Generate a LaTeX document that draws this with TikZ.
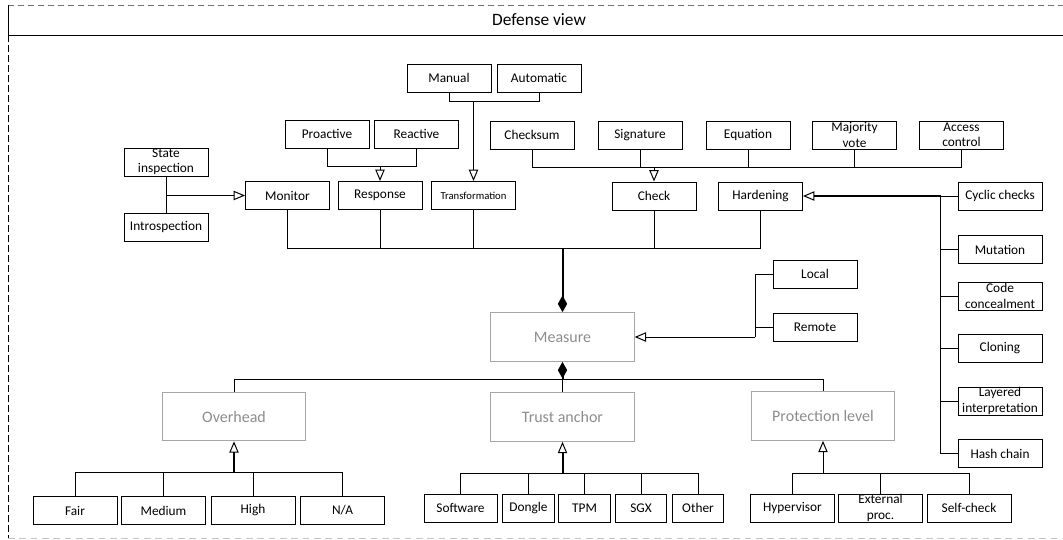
\documentclass[tikz,border=0pt]{standalone}
\usepackage{fontspec}
\setmainfont{Carlito}
\usetikzlibrary{arrows.meta}
\definecolor{boxgray}{HTML}{A6A6A6}
\definecolor{txtgray}{HTML}{8C8C8C}
\definecolor{dashgray}{HTML}{C4C4C4}
\definecolor{topgray}{HTML}{707070}
\tikzset{
  cls/.style={draw, line width=0.75pt, minimum height=21pt, minimum width=63pt,
    inner sep=1pt, align=center, font=\fontsize{10}{11.5}\selectfont},
  twoline/.style={inner ysep=-0.6pt},
  mini/.style={cls, minimum width=38.5pt},
  big/.style={draw=boxgray, text=txtgray, line width=0.75pt, minimum width=107.5pt,
    minimum height=36.5pt, font=\fontsize{12}{14}\selectfont},
  link/.style={line width=0.75pt},
  gen/.style={line width=0.75pt, -{Triangle[open, length=8.5pt, width=7pt]}},
  genbold/.style={line width=1.5pt, -{Triangle[open, length=8.5pt, width=7pt, line width=0.75pt]}},
  comp/.style={line width=1.5pt, -{Diamond[length=12.5pt, width=7pt]}},
}
\begin{document}
\begin{tikzpicture}[x=0.75pt, y=-0.75pt]
\useasboundingbox (0,0) rectangle (1063,539);

% frame and header
\draw[topgray, line width=0.75pt, dash pattern=on 4.5pt off 3pt] (8,5) -- (1063,5);
\draw[line width=0.75pt] (8,5) -- (8,35);
\draw[line width=0.75pt] (8,35) -- (1063,35);
\draw[line width=0.75pt, dash pattern=on 5pt off 2.5pt] (8,35) -- (8,538);
\draw[dashgray, line width=0.75pt, dash pattern=on 5pt off 3.5pt] (8,538) -- (1063,538);
\node[font=\fontsize{13}{15}\selectfont] (title) at (539,20) {Defense view};

% upper classes
\node[cls] (manual) at (449,78) {Manual};
\node[cls] (automatic) at (539,78) {Automatic};
\node[cls] (proactive) at (327,134) {Proactive};
\node[cls] (reactive) at (416.5,134) {Reactive};
\node[cls, twoline] (stateinsp) at (166,162) {State\\inspection};
\node[cls] (introsp) at (166,227) {Introspection};
\node[cls] (monitor) at (287.5,195.5) {Monitor};
\node[cls] (response) at (380,195.5) {Response};
\node[cls, font=\fontsize{8}{9}\selectfont] (transf) at (473.5,195.5) {Transformation};
\node[cls] (checksum) at (532,135) {Checksum};
\node[cls] (signature) at (640,135) {Signature};
\node[cls] (equation) at (748,135) {Equation};
\node[cls, twoline] (majority) at (854.5,135) {Majority\\vote};
\node[cls, twoline] (access) at (961.5,135) {Access\\control};
\node[cls] (check) at (654,196) {Check};
\node[cls] (hardening) at (760.5,196) {Hardening};

% hardening techniques
\node[cls] (cyclic) at (1000,196) {Cyclic checks};
\node[cls] (mutation) at (1000,249.5) {Mutation};
\node[cls, twoline] (concealment) at (1000,296) {Code\\concealment};
\node[cls] (cloning) at (1000,348) {Cloning};
\node[cls, twoline] (layered) at (1000,401) {Layered\\interpretation};
\node[cls] (hash) at (1000,453.5) {Hash chain};

% location
\node[cls] (local) at (815,274) {Local};
\node[cls] (remote) at (815,327.5) {Remote};

% central classes
\node[big] (measure) at (562.5,337) {Measure};
\node[big] (overhead) at (234,416.5) {Overhead};
\node[big] (trust) at (562.5,417) {Trust anchor};
\node[big] (protection) at (823,416) {Protection level};

% leaves
\node[cls] (fair) at (75,510.5) {Fair};
\node[cls] (medium) at (163.5,510.5) {Medium};
\node[cls] (high) at (253,510) {High};
\node[cls] (na) at (342.5,510) {N/A};
\node[cls, minimum width=54.75pt] (software) at (460.5,508) {Software};
\node[mini] (dongle) at (528.5,508) {Dongle};
\node[mini] (tpm) at (584.5,508) {TPM};
\node[mini] (sgx) at (641,508) {SGX};
\node[mini] (other) at (698,508) {Other};
\node[cls] (hypervisor) at (792.5,508) {Hypervisor};
\node[cls, twoline] (external) at (880.5,508) {External\\proc.};
\node[cls] (selfcheck) at (969,508) {Self-check};

% Manual / Automatic -> Transformation
\coordinate (tJ) at (473.5,101);
\draw[link] (manual.south) -- (manual.south |- tJ) -- (automatic.south |- tJ) -- (automatic.south);
\draw[gen] (tJ) -- (transf.north);

% Proactive / Reactive -> Response
\coordinate (rJ) at (380,166);
\draw[link] (proactive.south) -- (proactive.south |- rJ) -- (reactive.south |- rJ) -- (reactive.south);
\draw[gen] (rJ) -- (response.north);

% State inspection / Introspection -> Monitor
\draw[link] (stateinsp.south) -- (introsp.north);
\coordinate (mJ) at (166,195.5);
\draw[gen] (mJ) -- (monitor.west);

% check kinds -> Check
\coordinate (cJ) at (654,167);
\draw[link] (checksum.south) -- (checksum.south |- cJ) -- (access.south |- cJ) -- (access.south);
\foreach \n in {signature,equation,majority}
  \draw[link] (\n.south) -- (\n.south |- cJ);
\draw[gen] (cJ) -- (check.north);

% hardening techniques -> Hardening
\coordinate (hJ) at (940.5,196);
\draw[genbold] (hJ) -- (hardening.east);
\draw[link] (hJ) -- (hJ |- hash.west);
\foreach \n in {cyclic,mutation,concealment,cloning,layered,hash}
  \draw[link] (hJ |- \n.west) -- (\n.west);

% Measure is composed of the mechanisms
\coordinate (uJ) at (562.5,248);
\draw[link] (monitor.south) -- (monitor.south |- uJ) -- (hardening.south |- uJ) -- (hardening.south);
\foreach \n in {response,transf,check}
  \draw[link] (\n.south) -- (\n.south |- uJ);
\draw[comp] (uJ) -- (measure.north);

% Local / Remote -> Measure
\coordinate (lJ) at (755,337);
\draw[link] (local.west) -- (local.west -| lJ) -- (lJ);
\draw[link] (remote.west) -- (remote.west -| lJ);
\draw[gen] (lJ) -- (measure.east);

% Measure attributes
\coordinate (bJ) at (562.5,379);
\draw[comp] (bJ) -- (measure.south);
\draw[link] (overhead.north) -- (overhead.north |- bJ) -- (protection.north |- bJ) -- (protection.north);
\draw[link] (bJ) -- (trust.north);

% Overhead values
\coordinate (oJ) at (234,472);
\draw[link] (fair.north) -- (fair.north |- oJ) -- (na.north |- oJ) -- (na.north);
\foreach \n in {medium,high}
  \draw[link] (\n.north) -- (\n.north |- oJ);
\draw[genbold] (oJ) -- (overhead.south);

% Trust anchor values
\coordinate (aJ) at (562.5,473);
\draw[link] (software.north) -- (software.north |- aJ) -- (other.north |- aJ) -- (other.north);
\foreach \n in {dongle,tpm,sgx}
  \draw[link] (\n.north) -- (\n.north |- aJ);
\draw[genbold] (aJ) -- (trust.south);

% Protection level values
\coordinate (pJ) at (823,473);
\draw[link] (hypervisor.north) -- (hypervisor.north |- pJ) -- (selfcheck.north |- pJ) -- (selfcheck.north);
\draw[link] (external.north) -- (external.north |- pJ);
\draw[gen] (pJ) -- (protection.south);
\end{tikzpicture}
\end{document}
